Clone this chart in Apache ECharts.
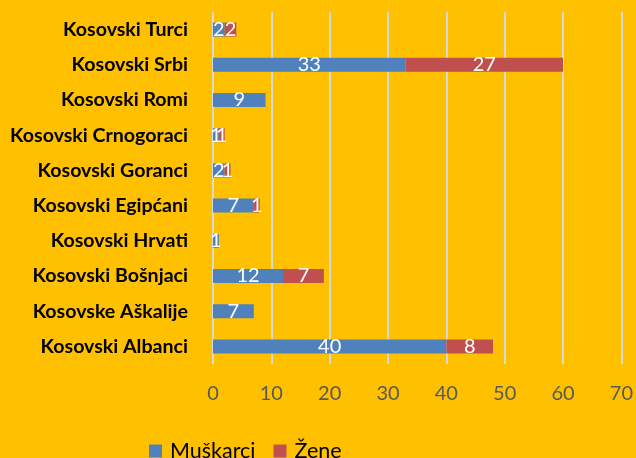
<!DOCTYPE html>
<html>
<head>
<meta charset="utf-8">
<script src="https://cdn.jsdelivr.net/npm/echarts@6/dist/echarts.min.js"></script>
<style>
    html, body {
        margin: 0;
        padding: 0;
        background: #FFC000;
    }
    #chart {
        width: 636px;
        height: 458px;
    }
</style>
</head>
<body>
<div id="chart"></div>
<script>
// categories bottom -> top (category axis starts at the bottom)
const categories = ['Kosovski Albanci', 'Kosovske Aškalije', 'Kosovski Bošnjaci', 'Kosovski Hrvati', 'Kosovski Egipćani',
    'Kosovski Goranci', 'Kosovski Crnogoraci', 'Kosovski Romi', 'Kosovski Srbi', 'Kosovski Turci'];
const muskarci = [40, 7, 12, 1, 7, 2, 1, 9, 33, 2];
const zene = [8, 0, 7, 0, 1, 1, 1, 0, 27, 2];
const seriesNames = ['Muškarci', 'Žene'];
const xTicks = [0, 10, 20, 30, 40, 50, 60, 70];

const fontFamily = 'Lato, "Open Sans", sans-serif';

const barLabel = {
    show: true,
    position: 'inside',
    color: '#fff',
    fontFamily: fontFamily,
    fontSize: 20,
    formatter: function (p) {
        return p.value ? String(p.value) : '';
    }
};

let option = {
    backgroundColor: '#FFC000',
    animation: false,
    grid: {
        top: 12,
        bottom: 94,
        left: 213,
        right: 13,
        containLabel: false
    },
    legend: {
        left: 149,
        top: 440,
        padding: 0,
        itemWidth: 13,
        itemHeight: 13,
        itemGap: 18,
        icon: 'rect',
        textStyle: {
            color: '#000',
            fontFamily: fontFamily,
            fontSize: 21.5,
            padding: [3, 0, 0, 3]
        },
        data: seriesNames
    },
    xAxis: {
        type: 'value',
        min: xTicks[0],
        max: xTicks[xTicks.length - 1],
        interval: 10,
        axisLine: { show: false },
        axisTick: { show: false },
        splitLine: {
            show: true,
            lineStyle: { color: '#D9D9D9', width: 2 }
        },
        axisLabel: {
            color: '#595959',
            fontFamily: fontFamily,
            fontSize: 20,
            margin: 20
        }
    },
    yAxis: {
        type: 'category',
        data: categories,
        axisLine: { show: false },
        axisTick: { show: false },
        axisLabel: {
            color: '#000',
            fontFamily: fontFamily,
            fontWeight: 'bold',
            fontSize: 19.6,
            margin: 25
        }
    },
    series: [
        {
            name: seriesNames[0],
            type: 'bar',
            stack: 'total',
            barWidth: 14,
            itemStyle: { color: '#4F81BD' },
            label: barLabel,
            data: muskarci
        },
        {
            name: seriesNames[1],
            type: 'bar',
            stack: 'total',
            barWidth: 14,
            itemStyle: { color: '#C0504D' },
            label: barLabel,
            data: zene
        }
    ]
};

const chartInit = () => {
    let myChart = echarts.init(document.getElementById('chart'));
    option && myChart.setOption(option);
};

chartInit();
</script>
</body>
</html>
